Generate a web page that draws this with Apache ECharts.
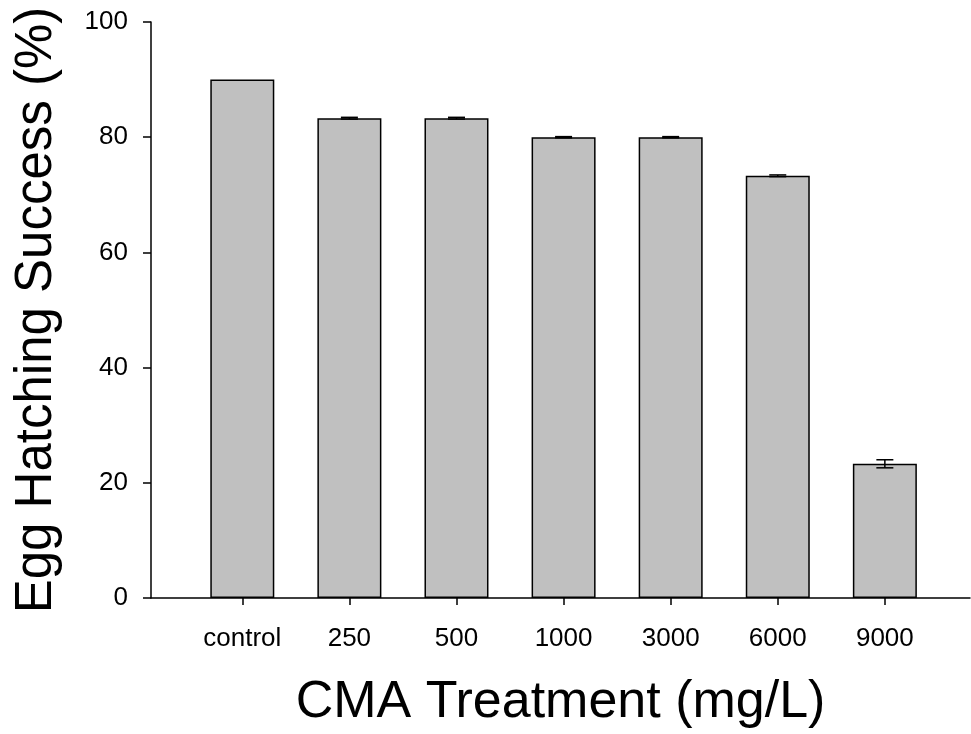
<!DOCTYPE html>
<html>
<head>
<meta charset="utf-8">
<script src="https://cdn.jsdelivr.net/npm/echarts@6/dist/echarts.min.js"></script>
<style>
  html, body { margin: 0; padding: 0; background: #fff; }
  #chart { width: 971px; height: 734px; }
</style>
</head>
<body>
<div id="chart"></div>
<script>
// treatment groups and read-off values
const categories = ['control', '250', '500', '1000', '3000', '6000', '9000'];
const hatching = [90, 83.3, 83.3, 80, 80, 73.3, 23.3];
const errors = [0, 0.15, 0.15, 0.1, 0.1, 0.15, 0.7];
const yTicks = [0, 20, 40, 60, 80, 100];

const positions = categories.map((c, i) => i + 1);

const chart = echarts.init(document.getElementById('chart'));
const font = 'Liberation Sans, Arial, sans-serif';

const option = {
  animation: false,
  grid: { left: 151, right: 1, top: 22, bottom: 135 },
  xAxis: {
    type: 'value',
    min: 0.1475,
    max: 7.795,
    splitLine: { show: false },
    axisLine: { onZero: false, lineStyle: { color: '#000', width: 1.5 } },
    axisTick: { show: true, length: 7, customValues: positions, lineStyle: { color: '#000', width: 1.5 } },
    axisLabel: {
      customValues: positions,
      formatter: v => categories[Math.round(v) - 1] || '',
      color: '#000', fontSize: 26, fontFamily: font, margin: 28
    },
    name: 'CMA Treatment (mg/L)',
    nameLocation: 'middle',
    nameGap: 79,
    nameTextStyle: { color: '#000', fontSize: 52, fontFamily: font }
  },
  yAxis: {
    type: 'value',
    min: 0,
    max: 100,
    interval: 20,
    splitLine: { show: false },
    axisLine: { show: true, lineStyle: { color: '#000', width: 1.5 } },
    axisTick: { show: true, length: 8, lineStyle: { color: '#000', width: 1.5 } },
    axisLabel: { color: '#000', fontSize: 26, fontFamily: font, margin: 23 },
    name: 'Egg Hatching Success (%)',
    nameLocation: 'middle',
    nameGap: 89,
    nameTextStyle: { color: '#000', fontSize: 51, fontFamily: font }
  },
  series: [
    {
      type: 'bar',
      barWidth: 64,
      data: positions.map((x, i) => [x, hatching[i]]),
      itemStyle: { color: '#c0c0c0', borderColor: '#000', borderWidth: 1.5 }
    },
    {
      // error bars
      type: 'custom',
      data: positions.map((x, i) => [x, hatching[i] - errors[i], hatching[i] + errors[i]]),
      z: 10,
      renderItem: function (params, api) {
        if (api.value(2) - api.value(1) <= 0) return null;
        const lo = api.coord([api.value(0), api.value(1)]);
        const hi = api.coord([api.value(0), api.value(2)]);
        const hw = 8.5;
        const style = { stroke: '#000', lineWidth: 1.5 };
        return {
          type: 'group',
          children: [
            { type: 'line', shape: { x1: hi[0], y1: hi[1], x2: lo[0], y2: lo[1] }, style },
            { type: 'line', shape: { x1: hi[0] - hw, y1: hi[1], x2: hi[0] + hw, y2: hi[1] }, style },
            { type: 'line', shape: { x1: lo[0] - hw, y1: lo[1], x2: lo[0] + hw, y2: lo[1] }, style }
          ]
        };
      }
    }
  ]
};

chart.setOption(option);
</script>
</body>
</html>
